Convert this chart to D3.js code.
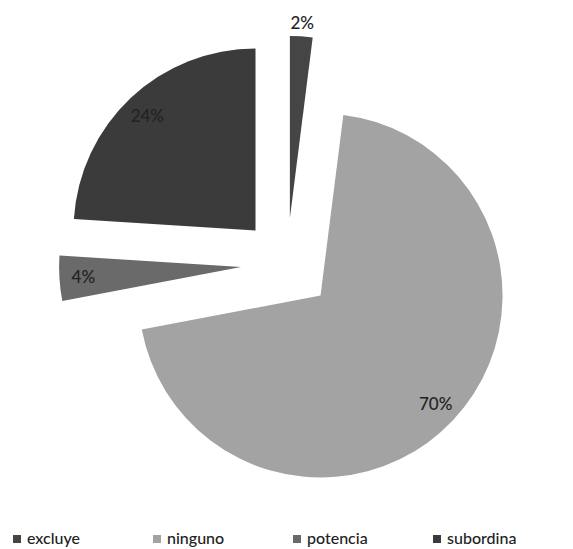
<!DOCTYPE html>
<html>
<head>
<meta charset="utf-8">
<script src="https://cdn.jsdelivr.net/npm/d3@7"></script>
<style>
  html, body { margin: 0; padding: 0; background: #fff; }
  svg { display: block; }
</style>
</head>
<body>
<svg id="chart" width="573" height="549"></svg>
<script>
// Share of each category (percent)
const categories = ["excluye", "ninguno", "potencia", "subordina"];
const values = [2, 70, 4, 24];
const labels = ["2%", "70%", "4%", "24%"];
const colors = ["#454545", "#a3a3a3", "#6a6a6a", "#3b3b3b"];

const svg = d3.select("#chart");
const cx = 287, cy = 264;
const radius = 182;
const explode = 46;
const fontFamily = "Lato, 'Open Sans', sans-serif";

const data = categories.map((c, i) => ({ name: c, value: values[i], label: labels[i], color: colors[i] }));

const pie = d3.pie().sort(null).value(d => d.value).startAngle(0).endAngle(2 * Math.PI);
const arcs = pie(data);
const arc = d3.arc().innerRadius(0).outerRadius(radius);

const g = svg.append("g").attr("transform", `translate(${cx},${cy})`);

const slice = g.selectAll("g.slice")
  .data(arcs)
  .join("g")
  .attr("class", "slice")
  .attr("transform", d => {
    const a = (d.startAngle + d.endAngle) / 2;
    return `translate(${explode * Math.sin(a)},${-explode * Math.cos(a)})`;
  });

slice.append("path")
  .attr("d", arc)
  .attr("fill", d => d.data.color);

// Small slices get their label just outside the rim
slice.append("text")
  .attr("transform", d => {
    const a = (d.startAngle + d.endAngle) / 2;
    const r = d.data.value < 3 ? 196 : 158;
    return `translate(${r * Math.sin(a)},${-r * Math.cos(a)})`;
  })
  .attr("text-anchor", "middle")
  .attr("dominant-baseline", "central")
  .attr("font-family", fontFamily)
  .attr("font-size", 17)
  .attr("font-weight", 500)
  .attr("fill", "#222")
  .text(d => d.data.label);

// Legend along the bottom
const legendX = d3.scalePoint().domain(categories).range([13, 433]);
const legend = svg.append("g").selectAll("g")
  .data(data)
  .join("g")
  .attr("transform", d => `translate(${legendX(d.name)},535)`);

legend.append("rect")
  .attr("width", 8).attr("height", 8)
  .attr("fill", d => d.color);

legend.append("text")
  .attr("x", 14)
  .attr("y", 9)
  .attr("font-family", fontFamily)
  .attr("font-size", 16)
  .attr("font-weight", 500)
  .attr("fill", "#222")
  .text(d => d.name);
</script>
</body>
</html>
